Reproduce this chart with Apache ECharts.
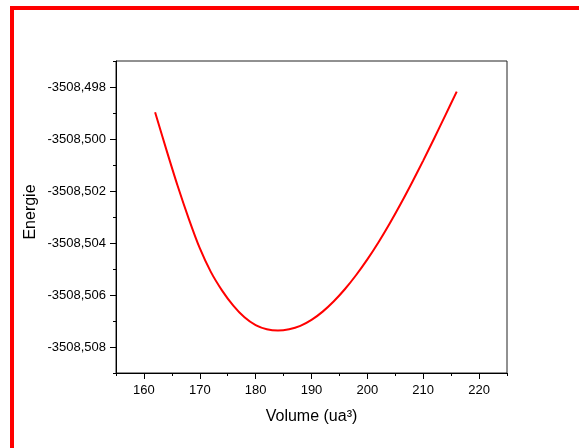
<!DOCTYPE html>
<html><head><meta charset="utf-8">
<script src="https://cdn.jsdelivr.net/npm/echarts@6/dist/echarts.min.js"></script>
<style>html,body{margin:0;padding:0;background:#fff}#c{width:579px;height:448px}</style>
</head><body><div id="c"></div>
<script>
const volume = [162,164,166,168,170,172,174,176,178,180,182,184,186,188,190,192,194,196,198,200,202,204,206,208,210,212,214,216];
const energy = [-3508.49897,-3508.50040,-3508.50178,-3508.50305,-3508.50420,-3508.50512,-3508.50583,-3508.50641,-3508.50686,-3508.50716,-3508.50732,-3508.50737,-3508.50732,-3508.50719,-3508.50696,-3508.50664,-3508.50624,-3508.50577,-3508.50523,-3508.50463,-3508.50397,-3508.50325,-3508.50248,-3508.50167,-3508.50083,-3508.49996,-3508.49907,-3508.49818];
const xTickLabels = [160,170,180,190,200,210,220];
const xMinorTicks = [155,165,175,185,195,205,215,225];
const yTickLabels = [-3508.498,-3508.500,-3508.502,-3508.504,-3508.506,-3508.508];
const yMinorTicks = [-3508.497,-3508.499,-3508.501,-3508.503,-3508.505,-3508.507,-3508.509];

const FONT = '"Liberation Sans", Arial, sans-serif';
const chart = echarts.init(document.getElementById('c'), null, {renderer: 'canvas'});
const xMin = 155, xMax = 225, yMin = -3508.509, yMax = -3508.497;
chart.setOption({
  animation: false,
  backgroundColor: '#fff',
  graphic: [{
    type: 'rect', shape: {x: 12, y: 8, width: 700, height: 600},
    style: {fill: 'none', stroke: '#ff0000', lineWidth: 4}, z: 100
  }],
  grid: {left: 116, top: 61, right: 72, bottom: 75, show: true, borderColor: '#222', borderWidth: 1, backgroundColor: 'transparent'},
  xAxis: [{
    type: 'value', min: xMin, max: xMax,
    name: 'Volume (ua³)', nameLocation: 'middle', nameGap: 36,
    nameTextStyle: {fontFamily: FONT, fontSize: 16, color: '#000'},
    axisLine: {show: true, lineStyle: {color: '#000', width: 1}},
    axisTick: {show: true, inside: false, length: 6, customValues: xTickLabels, lineStyle: {color: '#000'}},
    axisLabel: {customValues: xTickLabels, margin: 11, fontFamily: FONT, fontSize: 13, color: '#000'},
    splitLine: {show: false}
  }, {
    type: 'value', min: xMin, max: xMax, position: 'bottom',
    axisLine: {show: false},
    axisTick: {show: true, length: 3, customValues: xMinorTicks, lineStyle: {color: '#000'}},
    axisLabel: {show: false}, splitLine: {show: false}
  }],
  yAxis: [{
    type: 'value', min: yMin, max: yMax,
    name: 'Energie', nameLocation: 'middle', nameGap: 77, nameMoveOverlap: false,
    nameTextStyle: {fontFamily: FONT, fontSize: 16, color: '#000', padding: [0, 0, 0, 10]},
    axisLine: {show: true, lineStyle: {color: '#000', width: 1}},
    axisTick: {show: true, length: 6, customValues: yTickLabels, lineStyle: {color: '#000'}},
    axisLabel: {customValues: yTickLabels, margin: 10, fontFamily: FONT, fontSize: 13, color: '#000',
      formatter: v => v.toFixed(3).replace('.', ',')},
    splitLine: {show: false}
  }, {
    type: 'value', min: yMin, max: yMax, position: 'left',
    axisLine: {show: false},
    axisTick: {show: true, length: 3, customValues: yMinorTicks, lineStyle: {color: '#000'}},
    axisLabel: {show: false}, splitLine: {show: false}
  }],
  series: [{
    type: 'line', xAxisIndex: 0, yAxisIndex: 0,
    data: volume.map((v, i) => [v, energy[i]]),
    smooth: 0.3, showSymbol: false,
    lineStyle: {color: '#ff0000', width: 2}
  }]
});
</script></body></html>
